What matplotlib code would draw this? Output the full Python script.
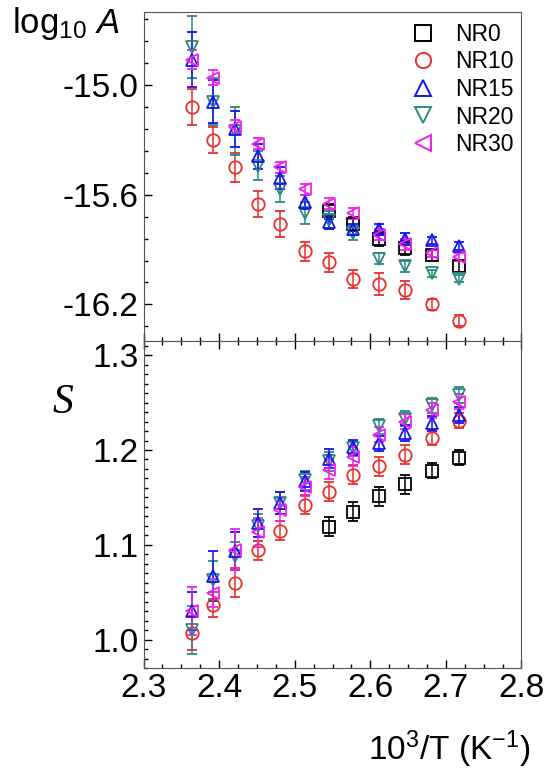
import numpy as np
import matplotlib.pyplot as plt
from matplotlib.lines import Line2D
from matplotlib.ticker import MultipleLocator, FormatStrFormatter

plt.rcParams['font.family'] = ['Liberation Sans', 'DejaVu Sans']
plt.rcParams['mathtext.fontset'] = 'custom'
plt.rcParams['mathtext.rm'] = 'Liberation Sans'
plt.rcParams['mathtext.it'] = 'Liberation Sans:italic'
plt.rcParams['axes.unicode_minus'] = False

# 1000/T values (K^-1)
x_all = [2.364, 2.392, 2.421, 2.451, 2.481, 2.513, 2.545, 2.577, 2.611, 2.646, 2.681, 2.717]
x_nr0 = [2.545, 2.577, 2.611, 2.646, 2.681, 2.717]

labels = ['NR0', 'NR10', 'NR15', 'NR20', 'NR30']
colors = ['black', '#e8302c', '#1414f0', '#2a8a82', '#f020f0']
markers = ['s', 'o', '^', 'v', '<']

# log10 A
logA_nr0 = [-15.69, -15.76, -15.84, -15.89, -15.93, -15.99]
logA_nr10 = [-15.12, -15.30, -15.45, -15.65, -15.76, -15.91, -15.97, -16.06, -16.09, -16.12, -16.20, -16.29]
logA_nr15 = [-14.86, -15.09, -15.24, -15.39, -15.51, -15.64, -15.75, -15.79, -15.79, -15.84, -15.85, -15.88]
logA_nr20 = [-14.79, -15.09, -15.25, -15.44, -15.57, -15.70, -15.74, -15.81, -15.95, -15.99, -16.03, -16.06]
logA_nr30 = [-14.86, -14.96, -15.23, -15.32, -15.45, -15.57, -15.65, -15.70, -15.82, -15.87, -15.92, -15.94]

logA_err_nr0 = [0.04, 0.04, 0.04, 0.04, 0.03, 0.03]
logA_err_nr10 = [0.10, 0.07, 0.08, 0.07, 0.07, 0.05, 0.05, 0.05, 0.06, 0.05, 0.03, 0.03]
logA_err_nr15 = [0.15, 0.12, 0.10, 0.07, 0.06, 0.04, 0.04, 0.03, 0.03, 0.03, 0.02, 0.02]
logA_err_nr20 = [0.17, 0.13, 0.13, 0.08, 0.07, 0.06, 0.05, 0.04, 0.03, 0.03, 0.02, 0.02]
logA_err_nr30 = [0.05, 0.04, 0.04, 0.03, 0.03, 0.03, 0.03, 0.03, 0.03, 0.03, 0.02, 0.02]

# S
S_nr0 = [1.119, 1.135, 1.151, 1.164, 1.178, 1.192]
S_nr10 = [1.007, 1.037, 1.060, 1.094, 1.115, 1.142, 1.156, 1.174, 1.183, 1.195, 1.213, 1.231]
S_nr15 = [1.030, 1.067, 1.093, 1.123, 1.144, 1.167, 1.191, 1.203, 1.207, 1.218, 1.228, 1.237]
S_nr20 = [1.010, 1.063, 1.088, 1.120, 1.144, 1.168, 1.188, 1.202, 1.225, 1.233, 1.247, 1.258]
S_nr30 = [1.030, 1.049, 1.095, 1.113, 1.137, 1.161, 1.179, 1.193, 1.216, 1.230, 1.242, 1.251]

S_err_nr0 = [0.010, 0.010, 0.010, 0.010, 0.008, 0.008]
S_err_nr10 = [0.018, 0.013, 0.015, 0.010, 0.010, 0.010, 0.010, 0.010, 0.010, 0.010, 0.008, 0.008]
S_err_nr15 = [0.020, 0.026, 0.020, 0.015, 0.012, 0.010, 0.010, 0.008, 0.008, 0.008, 0.008, 0.008]
S_err_nr20 = [0.025, 0.020, 0.015, 0.012, 0.012, 0.010, 0.010, 0.008, 0.008, 0.008, 0.008, 0.008]
S_err_nr30 = [0.025, 0.015, 0.022, 0.015, 0.012, 0.010, 0.010, 0.010, 0.008, 0.008, 0.008, 0.008]

top_series = [(x_nr0, logA_nr0, logA_err_nr0), (x_all, logA_nr10, logA_err_nr10),
              (x_all, logA_nr15, logA_err_nr15), (x_all, logA_nr20, logA_err_nr20),
              (x_all, logA_nr30, logA_err_nr30)]
bot_series = [(x_nr0, S_nr0, S_err_nr0), (x_all, S_nr10, S_err_nr10),
              (x_all, S_nr15, S_err_nr15), (x_all, S_nr20, S_err_nr20),
              (x_all, S_nr30, S_err_nr30)]

fig = plt.figure(figsize=(5.46, 7.69), dpi=100)
ax1 = fig.add_axes([0.263, 0.5566, 0.692, 0.4278])
ax2 = fig.add_axes([0.263, 0.1313, 0.692, 0.4253])

draw_order = [0, 1, 3, 2, 4]
for ax, series in [(ax1, top_series), (ax2, bot_series)]:
    for i in draw_order:
        x, y, e = series[i]
        ax.errorbar(x, y, yerr=e, fmt=markers[i], color=colors[i], mfc='none',
                    mec=colors[i], ms=9, mew=1.3, elinewidth=1.1, capsize=3.5, capthick=1.1)

for ax in (ax1, ax2):
    ax.set_xlim(2.3, 2.8)
    ax.xaxis.set_major_locator(MultipleLocator(0.1))
    ax.xaxis.set_minor_locator(MultipleLocator(0.025))
    ax.tick_params(which='both', direction='in', right=False, labelsize=24)
    ax.tick_params(which='major', length=6, width=1)
    ax.tick_params(which='minor', length=3, width=1)
    for s in ax.spines.values():
        s.set_color('#555555')

ax1.set_ylim(-16.4, -14.6)
ax1.set_yticks([-16.2, -15.6, -15.0])
ax1.yaxis.set_minor_locator(MultipleLocator(0.12))
ax1.yaxis.set_major_formatter(FormatStrFormatter('%.1f'))
ax1.tick_params(which='both', top=False, labelbottom=False)

ax2.set_ylim(0.97, 1.315)
ax2.set_yticks([1.0, 1.1, 1.2, 1.3])
ax2.yaxis.set_minor_locator(MultipleLocator(0.01))
ax2.yaxis.set_major_formatter(FormatStrFormatter('%.1f'))
ax2.xaxis.set_major_formatter(FormatStrFormatter('%.1f'))
ax2.tick_params(which='both', top=True)

handles = [Line2D([], [], ls='none', marker=markers[i], color=colors[i], mfc='none',
                  ms=11, mew=1.4) for i in range(5)]
ax1.legend(handles, labels, loc='upper right', frameon=False, fontsize=16.5,
           handlelength=1.0, handletextpad=0.9, labelspacing=0.2,
           bbox_to_anchor=(1.035, 1.03))

fig.text(0.022, 1 - 33 / 769, r'log$_{10}$ $\mathit{A}$', fontsize=25, va='baseline')
fig.text(0.097, 1 - 413 / 769, 'S', fontsize=30, family='Liberation Serif',
         style='italic', va='baseline')
fig.text(0.972, 1 - 760 / 769, r'10$^3$/T (K$^{-1}$)', fontsize=24, ha='right', va='baseline')

fig.savefig('out.png', dpi=100)
